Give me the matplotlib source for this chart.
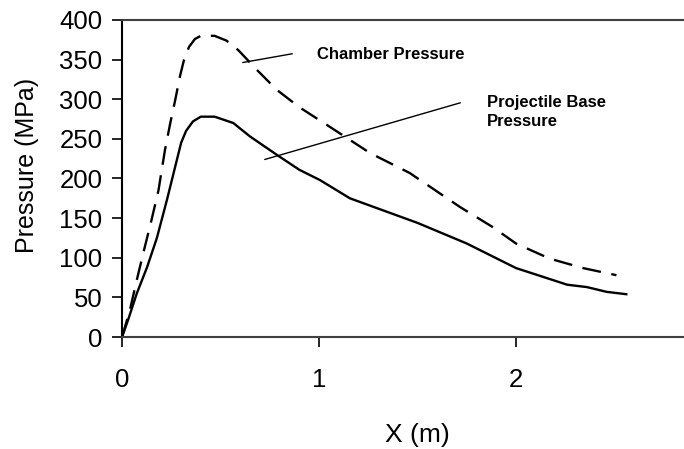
import numpy as np
import matplotlib
matplotlib.use('Agg')
import matplotlib.pyplot as plt

plt.rcParams['font.family'] = ['Liberation Sans', 'DejaVu Sans']

# chamber pressure (dashed)
x_chamber = [0.0, 0.04, 0.075, 0.108, 0.15, 0.185, 0.218, 0.245, 0.27, 0.295,
             0.315, 0.34, 0.37, 0.40, 0.47, 0.53, 0.59, 0.685, 0.785, 0.90,
             1.056, 1.26, 1.46, 1.716, 1.88, 2.0, 2.17, 2.34, 2.51]
p_chamber = [0, 34, 72, 106, 148, 185, 236, 270, 299, 330,
             350, 366, 376, 380, 380, 374, 362, 337, 312, 290,
             265, 232, 207, 164, 139, 118, 99, 87, 78]

# projectile base pressure (solid)
x_base = [0.0, 0.03, 0.075, 0.127, 0.177, 0.228, 0.255, 0.28, 0.30, 0.325,
          0.36, 0.40, 0.47, 0.565, 0.65, 0.785, 0.90, 1.005, 1.157, 1.50,
          1.75, 2.0, 2.26, 2.36, 2.46, 2.56]
p_base = [0, 21, 55, 88, 125, 173, 200, 225, 245, 260,
          272, 278, 278, 270, 253, 230, 211, 198, 175, 144,
          118, 87, 66, 63, 57, 54]

fig = plt.figure(figsize=(6.84, 4.49), dpi=100)
ax = fig.add_axes([0.1784, 0.2494, 0.8216, 0.7061])

ax.plot(x_chamber, p_chamber, color='black', lw=1.7, dashes=(8, 4.5))
ax.plot(x_base, p_base, color='black', lw=1.7)

ax.set_xlim(0, 2.853)
ax.set_ylim(0, 400)
ax.set_xticks([0, 1, 2])
ax.set_yticks(np.arange(0, 401, 50))

ax.spines['right'].set_visible(False)
ax.spines['top'].set_color('#404040')
ax.spines['bottom'].set_color('#404040')
ax.spines['left'].set_color('black')
for s in ax.spines.values():
    s.set_linewidth(1.5)

ax.tick_params(axis='both', direction='out', length=7, width=1.2, labelsize=18.5)
ax.tick_params(axis='x', pad=15)
ax.tick_params(axis='y', pad=7)

ax.set_xlabel('X (m)', fontsize=19)
ax.set_ylabel('Pressure (MPa)', fontsize=18)
ax.xaxis.set_label_coords(0.525, -0.27)
ax.yaxis.set_label_coords(-0.147, 0.54)

# annotations
ax.annotate('', xy=(0.599, 345.7), xytext=(0.878, 358),
            arrowprops=dict(arrowstyle='-', color='black', lw=1))
ax.text(0.99, 356, 'Chamber Pressure', fontsize=12, fontweight='bold',
        va='center', ha='left')
ax.annotate('', xy=(0.711, 223), xytext=(1.731, 296.5),
            arrowprops=dict(arrowstyle='-', color='black', lw=1))
ax.text(1.853, 305, 'Projectile Base\nPressure', fontsize=12, fontweight='bold',
        va='top', ha='left', linespacing=1.3)

fig.savefig('out.png', dpi=100)
